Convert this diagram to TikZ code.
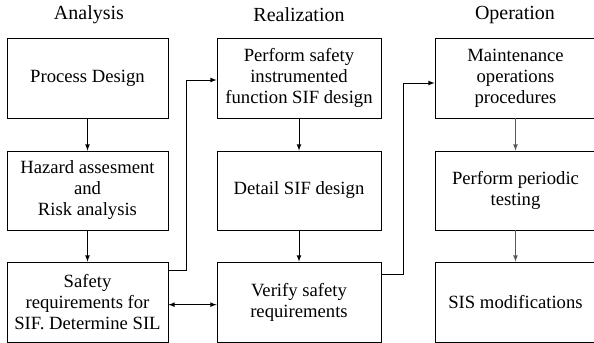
\documentclass[tikz,border=0pt]{standalone}
\usepackage{fontspec}
\setmainfont{Liberation Serif}
\usepackage{tikz}
\usetikzlibrary{arrows}

\tikzset{
    stage/.style={draw, line width=0.6pt, align=center, inner sep=2pt,
        minimum height=60pt, font=\fontsize{14}{15.75}\selectfont},
    phase/.style={font=\fontsize{15}{18}\selectfont},
    flow/.style={->, >=latex, line width=0.6pt}
}

\begin{document}
\begin{tikzpicture}[x=0.75pt, y=-0.75pt]

\useasboundingbox (0,0) rectangle (594,343);

\node [phase] (tA) at (89,15) {Analysis};
\node [phase] (tR) at (299,15) {Realization};
\node [phase] (tO) at (515,15) {Operation};

\node [stage, minimum width=120.75pt] (pd) at (87.5,78) {Process Design};
\node [stage, minimum width=120.75pt, minimum height=59.25pt] (haz) at (87.5,190.5) {Hazard assesment\\and\\Risk analysis};
\node [stage, minimum width=120.75pt] (sreq) at (87.5,302) {Safety\\requirements for\\SIF. Determine SIL};

\node [stage, minimum width=123pt] (perf) at (299,78) {Perform safety\\instrumented\\function SIF design};
\node [stage, minimum width=123pt, minimum height=59.25pt] (det) at (299,190.5) {Detail SIF design};
\node [stage, minimum width=123pt] (ver) at (299,302) {Verify safety\\requirements};

\node [stage, minimum width=120.75pt] (maint) at (515.5,78) {Maintenance\\operations\\procedures};
\node [stage, minimum width=120.75pt, minimum height=59.25pt] (test) at (515.5,190.5) {Perform periodic\\testing};
\node [stage, minimum width=120.75pt] (mods) at (515.5,302) {SIS modifications};

\foreach \a/\b in {pd/haz, haz/sreq, perf/det, det/ver}
    \draw [flow] (\a) -- (\b);

\foreach \a/\b in {maint/test, test/mods}
    \draw [flow, black!65] (\a) -- (\b);

\draw [flow] ([yshift=24pt]sreq.east) -- ++(13.5pt,0) |- ([yshift=-1.5pt]perf.west);
\draw [flow] ([yshift=21pt]ver.east) -- ++(16.5pt,0) |- ([yshift=-3.75pt]maint.west);
\draw [flow, <->] ([yshift=-2pt]sreq.east) -- ([yshift=-2pt]ver.west);

\end{tikzpicture}
\end{document}
